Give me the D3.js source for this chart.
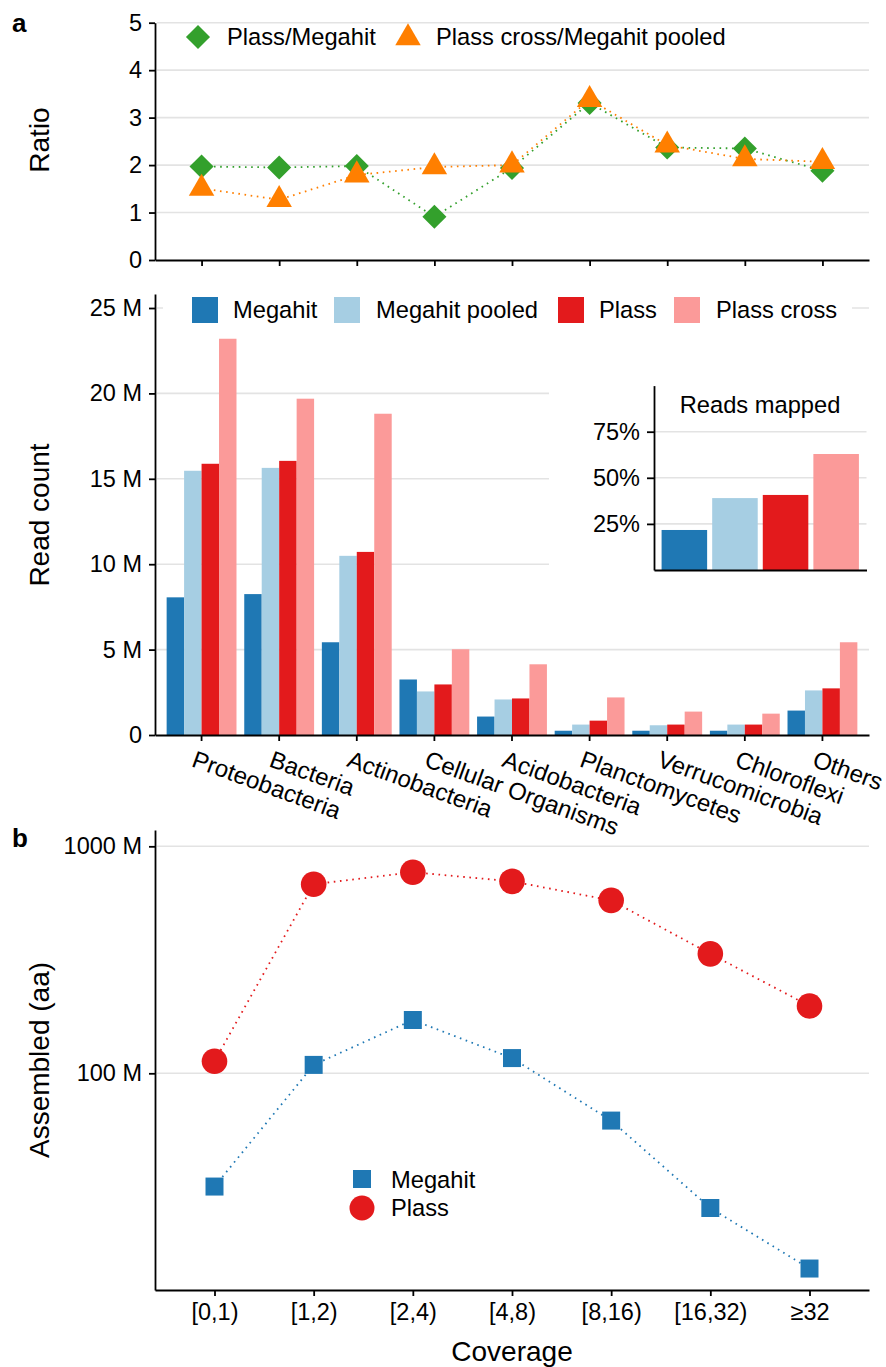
<!DOCTYPE html>
<html>
<head>
<meta charset="utf-8">
<script src="https://cdn.jsdelivr.net/npm/d3@7"></script>
<style>
  body { margin: 0; background: #fff; }
  svg text { font-family: 'Liberation Sans', Arial, Helvetica, sans-serif; fill: #000; }
</style>
</head>
<body>
<div id="chart"></div>
<script>
// Data
var taxa = ['Proteobacteria', 'Bacteria', 'Actinobacteria', 'Cellular Organisms', 'Acidobacteria',
            'Planctomycetes', 'Verrucomicrobia', 'Chloroflexi', 'Others'];
var methods = ['Megahit', 'Megahit pooled', 'Plass', 'Plass cross'];

var megahitReads       = [8.06e6, 8.25e6, 5.43e6, 3.25e6, 1.08e6, 0.25e6, 0.25e6, 0.25e6, 1.43e6];
var megahitPooledReads = [15.47e6, 15.64e6, 10.49e6, 2.55e6, 2.08e6, 0.61e6, 0.57e6, 0.61e6, 2.61e6];
var plassReads         = [15.88e6, 16.05e6, 10.72e6, 2.96e6, 2.14e6, 0.84e6, 0.61e6, 0.61e6, 2.73e6];
var plassCrossReads    = [23.2e6, 19.69e6, 18.81e6, 5.02e6, 4.14e6, 2.2e6, 1.37e6, 1.25e6, 5.43e6];

var ratioPlassMegahit = [1.97, 1.95, 1.98, 0.91, 1.94, 3.31, 2.37, 2.35, 1.88];
var ratioCrossPooled  = [1.51, 1.27, 1.79, 1.96, 2.0, 3.38, 2.42, 2.13, 2.07];

var readsMapped = [0.217, 0.39, 0.407, 0.629];

var coverageBins = ['[0,1)', '[1,2)', '[2,4)', '[4,8)', '[8,16)', '[16,32)', '\u226532'];
var megahitAssembled = [31.7e6, 108.9e6, 171.7e6, 116.7e6, 61.9e6, 25.5e6, 13.8e6];
var plassAssembled   = [113e6, 681e6, 769e6, 701e6, 578e6, 336e6, 198e6];

var ratioTicks = [0, 1, 2, 3, 4, 5];
var readTicks = [0, 5e6, 10e6, 15e6, 20e6, 25e6];
var mappedTicks = [0.25, 0.5, 0.75];
var assembledTicks = [1e8, 1e9];

var readSeries = [megahitReads, megahitPooledReads, plassReads, plassCrossReads];

// Colours (ColorBrewer Paired)
var methodColor = d3.scaleOrdinal()
                    .domain(methods)
                    .range(['#1f78b4', '#a6cee3', '#e31a1c', '#fb9a99']);
var green = '#33a02c',
    orange = '#ff7f00';

var gridColor = '#e3e3e3';
var left = 155,
    right = 869;

var svg = d3.select('#chart')
            .append('svg')
            .attr('width', 886)
            .attr('height', 1367);

svg.append('rect')
   .attr('width', 886)
   .attr('height', 1367)
   .attr('fill', '#fff');

function styleAxis(g) {
  g.attr('font-family', null)
   .attr('font-size', null);
  g.select('.domain').attr('stroke-width', 1.8);
  g.selectAll('.tick line').attr('stroke-width', 1.8);
  g.selectAll('.tick text').style('font-size', '23.5px');
}

function grid(yScale, ticks, x1, x2) {
  svg.append('g')
     .selectAll('line')
     .data(ticks)
     .enter()
     .append('line')
     .attr('x1', x1)
     .attr('x2', x2)
     .attr('y1', function(d) { return yScale(d); })
     .attr('y2', function(d) { return yScale(d); })
     .attr('stroke', gridColor)
     .attr('stroke-width', 1.6);
}

function yTitle(text, cy) {
  svg.append('text')
     .attr('transform', 'translate(49,' + cy + ') rotate(-90)')
     .attr('text-anchor', 'middle')
     .style('font-size', '28px')
     .text(text);
}

function dotted(data, xFn, yFn, color) {
  var line = d3.line()
               .x(xFn)
               .y(yFn);
  svg.append('path')
     .datum(data)
     .attr('d', line)
     .attr('fill', 'none')
     .attr('stroke', color)
     .attr('stroke-width', 1.8)
     .attr('stroke-dasharray', '1.6,4.6');
}

function markers(data, xFn, yFn, symbol, size, color, rotate) {
  svg.append('g')
     .selectAll('path')
     .data(data)
     .enter()
     .append('path')
     .attr('d', d3.symbol().type(symbol).size(size))
     .attr('transform', function(d, i) {
       return 'translate(' + xFn(d, i) + ',' + yFn(d) + ')' + (rotate ? ' rotate(45)' : '');
     })
     .attr('fill', color);
}

// Panel labels
svg.append('text').attr('x', 12).attr('y', 32).style('font-size', '26px').style('font-weight', 'bold').text('a');
svg.append('text').attr('x', 12).attr('y', 847).style('font-size', '26px').style('font-weight', 'bold').text('b');

// ---------------- Ratio panel ----------------
var xA = d3.scalePoint()
           .domain(taxa)
           .range([left, right])
           .padding(0.6);
var yA = d3.scaleLinear()
           .domain([0, 5])
           .range([260, 22.7]);

grid(yA, ratioTicks.slice(1), left + 2, right);

var xPos = function(d, i) { return xA(taxa[i]); };

dotted(ratioPlassMegahit, xPos, yA, green);
markers(ratioPlassMegahit, xPos, yA, d3.symbolSquare, 290, green, true);
dotted(ratioCrossPooled, xPos, yA, orange);
markers(ratioCrossPooled, xPos, yA, d3.symbolTriangle, 281, orange, false);

svg.append('g')
   .attr('transform', 'translate(' + left + ',0)')
   .call(d3.axisLeft(yA).tickValues(ratioTicks).tickFormat(d3.format('d'))
           .tickSize(6).tickPadding(7).tickSizeOuter(0))
   .call(styleAxis);

svg.append('g')
   .attr('transform', 'translate(0,260)')
   .call(d3.axisBottom(xA).tickFormat('').tickSize(6).tickSizeOuter(0))
   .call(styleAxis);

yTitle('Ratio', 140);

// legend
svg.append('path')
   .attr('d', d3.symbol().type(d3.symbolSquare).size(290))
   .attr('transform', 'translate(198,37) rotate(45)')
   .attr('fill', green);
svg.append('text').attr('x', 227).attr('y', 45).style('font-size', '23.7px').text('Plass/Megahit');
svg.append('path')
   .attr('d', d3.symbol().type(d3.symbolTriangle).size(281))
   .attr('transform', 'translate(408,38)')
   .attr('fill', orange);
svg.append('text').attr('x', 436).attr('y', 45).style('font-size', '23.7px').text('Plass cross/Megahit pooled');

// ---------------- Read count panel ----------------
var xB = d3.scaleBand()
           .domain(taxa)
           .range([left, right])
           .paddingInner(0.1)
           .paddingOuter(0.15);
var xSub = d3.scaleBand()
             .domain(methods)
             .range([0, xB.bandwidth()]);
var yB = d3.scaleLinear()
           .domain([0, 25.82e6])
           .range([735, 294]);

grid(yB, readTicks.slice(1), left + 2, right);

// white backgrounds for legend and inset
svg.append('rect').attr('x', 163).attr('y', 292).attr('width', 689).attr('height', 38).attr('fill', '#fff');
svg.append('rect').attr('x', 549).attr('y', 340).attr('width', 337).attr('height', 260).attr('fill', '#fff');

methods.forEach(function(m, k) {
  svg.append('g')
     .selectAll('rect')
     .data(readSeries[k])
     .enter()
     .append('rect')
     .attr('x', function(d, i) { return xB(taxa[i]) + xSub(m); })
     .attr('y', function(d) { return yB(d); })
     .attr('width', xSub.bandwidth())
     .attr('height', function(d) { return yB(0) - yB(d); })
     .attr('fill', methodColor(m));
});

svg.append('g')
   .attr('transform', 'translate(' + left + ',0)')
   .call(d3.axisLeft(yB).tickValues(readTicks).tickSize(6).tickPadding(7).tickSizeOuter(0)
           .tickFormat(function(d) { return d === 0 ? '0' : d / 1e6 + ' M'; }))
   .call(styleAxis);

var xAxisB = svg.append('g')
                .attr('transform', 'translate(0,735)')
                .call(d3.axisBottom(xB).tickSize(6).tickSizeOuter(0))
                .call(styleAxis);

xAxisB.selectAll('.tick text')
      .attr('x', 0)
      .attr('y', 0)
      .attr('dy', '0.75em')
      .attr('text-anchor', 'start')
      .style('font-size', '24px')
      .attr('transform', 'translate(-5,14) rotate(20)');

yTitle('Read count', 515);

// legend
var legendX = [[192, 233], [334, 376], [558, 599], [674, 716]];
methods.forEach(function(m, k) {
  svg.append('rect')
     .attr('x', legendX[k][0])
     .attr('y', 297)
     .attr('width', 26)
     .attr('height', 26)
     .attr('fill', methodColor(m));
  svg.append('text')
     .attr('x', legendX[k][1])
     .attr('y', 318)
     .style('font-size', '23.7px')
     .text(m);
});

// inset: reads mapped
var xI = d3.scaleBand()
           .domain(methods)
           .range([654, 866.5])
           .paddingInner(0.1)
           .paddingOuter(0.15);
var yI = d3.scaleLinear()
           .domain([0, 1])
           .range([570, 385.6]);

grid(yI, mappedTicks, 655, 866.5);

svg.append('g')
   .selectAll('rect')
   .data(readsMapped)
   .enter()
   .append('rect')
   .attr('x', function(d, i) { return xI(methods[i]); })
   .attr('y', function(d) { return yI(d); })
   .attr('width', xI.bandwidth())
   .attr('height', function(d) { return yI(0) - yI(d); })
   .attr('fill', function(d, i) { return methodColor(methods[i]); });

svg.append('g')
   .attr('transform', 'translate(654,0)')
   .call(d3.axisLeft(yI).tickValues(mappedTicks).tickSize(7).tickPadding(7).tickSizeOuter(0)
           .tickFormat(d3.format('.0%')))
   .call(styleAxis);

svg.append('g')
   .attr('transform', 'translate(0,570)')
   .call(d3.axisBottom(xI).tickValues([]).tickSizeOuter(0))
   .call(styleAxis);

svg.append('text')
   .attr('x', 760)
   .attr('y', 413)
   .attr('text-anchor', 'middle')
   .style('font-size', '23.7px')
   .text('Reads mapped');

// ---------------- Assembled panel ----------------
var xC = d3.scalePoint()
           .domain(coverageBins)
           .range([left, right])
           .padding(0.6);
var yC = d3.scaleLog()
           .domain([11.1e6, 1180e6])
           .range([1290, 830]);

grid(yC, assembledTicks, left + 2, right);

var xPosC = function(d, i) { return xC(coverageBins[i]); };

dotted(plassAssembled, xPosC, yC, '#e31a1c');
dotted(megahitAssembled, xPosC, yC, '#1f78b4');
markers(plassAssembled, xPosC, yC, d3.symbolCircle, Math.PI * 12.8 * 12.8, '#e31a1c', false);
markers(megahitAssembled, xPosC, yC, d3.symbolSquare, 18 * 18, '#1f78b4', false);

svg.append('g')
   .attr('transform', 'translate(' + left + ',0)')
   .call(d3.axisLeft(yC).tickValues(assembledTicks).tickSize(6).tickPadding(7).tickSizeOuter(0)
           .tickFormat(function(d) { return d / 1e6 + ' M'; }))
   .call(styleAxis);

svg.append('g')
   .attr('transform', 'translate(0,1290)')
   .call(d3.axisBottom(xC).tickSize(6).tickPadding(7).tickSizeOuter(0))
   .call(styleAxis);

yTitle('Assembled (aa)', 1060);

svg.append('text')
   .attr('x', 512)
   .attr('y', 1361)
   .attr('text-anchor', 'middle')
   .style('font-size', '28px')
   .text('Coverage');

// legend
svg.append('rect').attr('x', 353).attr('y', 1170).attr('width', 18).attr('height', 18).attr('fill', '#1f78b4');
svg.append('text').attr('x', 391).attr('y', 1188).style('font-size', '23.7px').text('Megahit');
svg.append('circle').attr('cx', 362).attr('cy', 1208).attr('r', 12.5).attr('fill', '#e31a1c');
svg.append('text').attr('x', 391).attr('y', 1216).style('font-size', '23.7px').text('Plass');
</script>
</body>
</html>
